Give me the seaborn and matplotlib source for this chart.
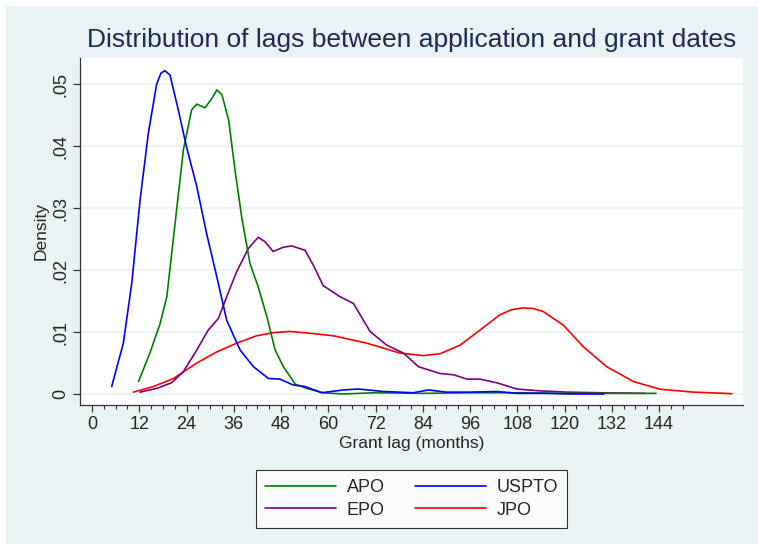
import matplotlib.pyplot as plt
import numpy as np
import pandas as pd
import seaborn as sns
from matplotlib.patches import Rectangle
from matplotlib.ticker import MultipleLocator

# density curves (months, density)
apo_x = [11.8, 14.7, 17.3, 19.0, 21.1, 23.2, 25.3, 26.6, 28.7, 30.4, 31.7, 33.0,
         34.7, 36.3, 38.0, 40.1, 42.2, 44.4, 46.5, 48.6, 51.6, 54.5, 58.7, 63.8,
         72, 84, 96, 108, 120, 132, 143.2]
apo_y = [0.0020, 0.0066, 0.0114, 0.0157, 0.0276, 0.0394, 0.0459, 0.0468, 0.0462,
         0.0477, 0.0491, 0.0483, 0.0442, 0.0362, 0.0286, 0.0211, 0.0173, 0.0125,
         0.0071, 0.0044, 0.0016, 0.0009, 0.0002, 0.0000, 0.0002, 0.0001, 0.0002,
         0.0002, 0.0001, 0.0001, 0.0001]

uspto_x = [5.0, 7.95, 10.1, 12.2, 14.3, 16.4, 17.5, 18.5, 19.8, 21.9, 24.0, 26.6, 29.1,
           31.7, 34.2, 37.6, 41.0, 44.8, 47.7, 51.1, 54.1, 58.3, 63.8, 67.6, 74.0,
           81.6, 85.4, 90.0, 96.0, 102.8, 107.9, 115, 122, 130]
uspto_y = [0.0012, 0.0082, 0.0179, 0.0313, 0.0421, 0.0500, 0.0518, 0.0522, 0.0515, 0.0459,
           0.0399, 0.0335, 0.0259, 0.0189, 0.0119, 0.0071, 0.0044, 0.0025, 0.0024,
           0.00145, 0.0012, 0.0002, 0.00065, 0.0008, 0.0004, 0.0002, 0.00065,
           0.0003, 0.0003, 0.0004, 0.0001, 0.0001, 0.0000, 0.0000]

epo_x = [12.2, 16.4, 20.2, 23.2, 26.6, 29.5, 32.1, 34.2, 36.7, 39.7, 42.2, 43.9,
         46.0, 48.6, 50.7, 54.1, 56.2, 58.7, 63.0, 66.4, 70.6, 74.8, 79.1, 82.9,
         88.4, 91.8, 95.2, 98.5, 102.8, 107.9, 113.8, 120.6, 129.0, 140.5]
epo_y = [0.0003, 0.0009, 0.0018, 0.0036, 0.0071, 0.0103, 0.0122, 0.0157, 0.0197,
         0.0235, 0.0253, 0.0246, 0.0230, 0.0237, 0.0239, 0.0232, 0.0208, 0.0175,
         0.0157, 0.0146, 0.0101, 0.0079, 0.0066, 0.0044, 0.0033, 0.0031, 0.0024,
         0.0024, 0.0018, 0.0008, 0.0005, 0.0003, 0.0002, 0.0001]

jpo_x = [10.5, 15.6, 20.7, 26.6, 31.7, 36.7, 41.8, 46.0, 50.3, 55.4, 61.3, 69.8,
         78.2, 84.1, 88.4, 93.5, 98.5, 103.6, 106.5, 109.5, 112.0, 114.6, 119.7, 124.8,
         130.7, 137.5, 144.3, 152.7, 162.5]
jpo_y = [0.0003, 0.0012, 0.0025, 0.0050, 0.0068, 0.0082, 0.0094, 0.0099, 0.0101,
         0.0098, 0.0094, 0.0082, 0.0066, 0.0062, 0.0065, 0.0079, 0.0103, 0.0128,
         0.0136, 0.0139, 0.0138, 0.0133, 0.0111, 0.0076, 0.0044, 0.0020, 0.00076,
         0.0003, 0.00005]

offices = ["APO", "EPO", "USPTO", "JPO"]
colors = {"APO": "#008000", "USPTO": "#0000ff", "EPO": "#800080", "JPO": "#ff0000"}

if __name__ == "__main__":
    sns.set_style("white")
    plt.rcParams["font.family"] = ["Liberation Sans", "DejaVu Sans"]

    df = pd.concat([
        pd.DataFrame({"lag": apo_x, "density": apo_y, "office": "APO"}),
        pd.DataFrame({"lag": uspto_x, "density": uspto_y, "office": "USPTO"}),
        pd.DataFrame({"lag": epo_x, "density": epo_y, "office": "EPO"}),
        pd.DataFrame({"lag": jpo_x, "density": jpo_y, "office": "JPO"}),
    ])

    bg = "#eaf2f3"
    f = plt.figure(figsize=(7.58, 5.44), dpi=100, facecolor="white")
    f.add_artist(Rectangle((6 / 758, 0), 1, 1 - 6 / 544, transform=f.transFigure,
                           facecolor=bg, edgecolor="none", zorder=-10))
    ax = f.add_axes([80 / 758, 1 - 405 / 544, (743 - 80) / 758, (405 - 58) / 544])
    ax.set_facecolor("white")

    for name in ["JPO", "EPO", "APO", "USPTO"]:
        sns.lineplot(df[df.office == name], x="lag", y="density", ax=ax,
                     color=colors[name], lw=1.2, label=name, legend=False)

    ax.set_xlim(-3.05, 165.3)
    ax.set_ylim(-0.00178, 0.05425)
    ax.set_xticks(np.arange(0, 145, 12))
    ax.xaxis.set_minor_locator(MultipleLocator(3))
    ax.set_xticks(np.arange(0, 151, 3), minor=True)
    ax.set_yticks([0, 0.01, 0.02, 0.03, 0.04, 0.05])
    ax.set_yticklabels(["0", ".01", ".02", ".03", ".04", ".05"], rotation=90, va="center")
    ax.grid(axis="y", color=bg, lw=1.2)
    ax.set_axisbelow(True)
    for s in ["top", "right"]:
        ax.spines[s].set_visible(False)
    for s in ["left", "bottom"]:
        ax.spines[s].set_color("#333333")
        ax.spines[s].set_linewidth(0.9)
    ax.tick_params(axis="both", which="major", direction="out", length=5, width=0.9,
                   color="#333333", labelsize=13, left=True, bottom=True, pad=3)
    ax.tick_params(axis="x", which="minor", direction="out", length=3, width=0.8,
                   color="#333333", bottom=True)
    ax.set_xlabel("Grant lag (months)", fontsize=12.5, labelpad=2)
    ax.set_ylabel("Density", fontsize=12.5, labelpad=2)

    f.text(0.5429, 1 - 40 / 544, "Distribution of lags between application and grant dates",
           ha="center", va="center", fontsize=19, color="#1c2b5a")

    handles = {l: h for h, l in zip(*ax.get_legend_handles_labels())}
    leg = f.legend([handles[o] for o in offices], offices, loc="center",
                   bbox_to_anchor=(0.543, 1 - 499 / 544), ncol=2, fontsize=13,
                   frameon=True, fancybox=False, edgecolor="black",
                   handlelength=3.9, handletextpad=0.6, columnspacing=1.7,
                   borderpad=0.5, labelspacing=0.3)
    leg.get_frame().set_linewidth(0.8)

    f.savefig("out.png", dpi=100, facecolor=f.get_facecolor())
